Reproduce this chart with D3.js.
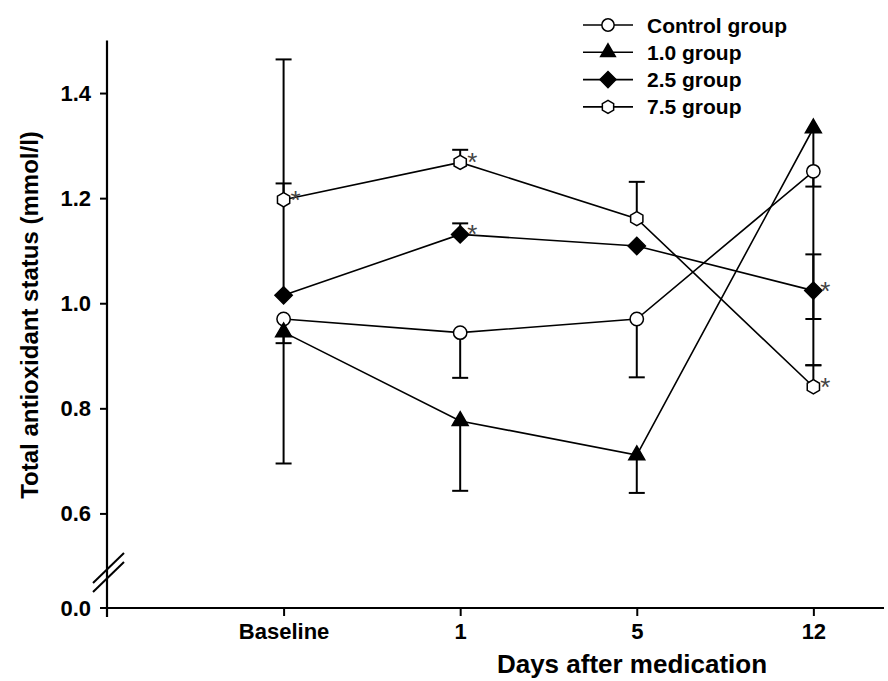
<!DOCTYPE html>
<html>
<head>
<meta charset="utf-8">
<script src="https://cdn.jsdelivr.net/npm/d3@7"></script>
<style>
  body { margin: 0; background: #fff; }
  text { font-family: "Liberation Sans", Arial, sans-serif; font-weight: bold; fill: #000; }
</style>
</head>
<body>
<div id="chart"></div>
<script>
var width = 888,
    height = 681;

// data
var categories = ["Baseline", "1", "5", "12"];
var groups = ["Control group", "1.0 group", "2.5 group", "7.5 group"];

var controlVals = [0.970, 0.944, 0.970, 1.251];
var grp10Vals   = [0.945, 0.776, 0.711, 1.333];
var grp25Vals   = [1.015, 1.131, 1.109, 1.024];
var grp75Vals   = [1.197, 1.268, 1.161, 0.841];

// end of the error bars (null = no bar on that side)
var controlLow  = [0.924, 0.858, 0.859, 1.222];
var controlHigh = [null, null, null, null];
var grp10Low    = [0.695, 0.643, 0.639, 0.882];
var grp10High   = [null, null, null, null];
var grp25Low    = [null, null, null, 0.970];
var grp25High   = [1.464, 1.152, null, 1.093];
var grp75Low    = [null, null, null, null];
var grp75High   = [1.228, 1.292, 1.231, 0.882];

// significance stars
var controlStar = [false, false, false, false];
var grp10Star   = [false, false, false, false];
var grp25Star   = [false, true, false, true];
var grp75Star   = [true, true, false, true];

var yTicks = [0.6, 0.8, 1.0, 1.2, 1.4];
var breakLabel = "0.0";

var svg = d3.select("#chart")
    .append("svg")
    .attr("width", width)
    .attr("height", height);

// x : index of the category, axis starts one step before baseline
var x = d3.scaleLinear().domain([-1, 3.4]).range([107, 884]);
// y : the bottom of the axis is the broken 0.0
var y = d3.scaleLinear().domain([0.42, 1.5]).range([608, 40.5]);

// custom symbols
var hexagon = {
    draw: function(context, size) {
        var r = Math.sqrt(size / 2.598);
        for (var i = 0; i < 6; i++) {
            var a = Math.PI / 2 + i * Math.PI / 3;
            if (i == 0) context.moveTo(r * Math.cos(a), -r * Math.sin(a));
            else context.lineTo(r * Math.cos(a), -r * Math.sin(a));
        }
        context.closePath();
    }
};
var square45 = {
    draw: function(context, size) {
        var r = Math.sqrt(size / 2);
        context.moveTo(0, -r);
        context.lineTo(r, 0);
        context.lineTo(0, r);
        context.lineTo(-r, 0);
        context.closePath();
    }
};

var series = [
    {name: groups[0], vals: controlVals, low: controlLow, high: controlHigh, star: controlStar,
     symbol: d3.symbolCircle, size: 140, fill: "#fff"},
    {name: groups[1], vals: grp10Vals, low: grp10Low, high: grp10High, star: grp10Star,
     symbol: d3.symbolTriangle, size: 110, fill: "#000"},
    {name: groups[2], vals: grp25Vals, low: grp25Low, high: grp25High, star: grp25Star,
     symbol: square45, size: 150, fill: "#000"},
    {name: groups[3], vals: grp75Vals, low: grp75Low, high: grp75High, star: grp75Star,
     symbol: hexagon, size: 130, fill: "#fff"}
];

var line = d3.line()
    .x(function(d, i) { return x(i); })
    .y(function(d) { return y(d); });

// axes
var xAxis = d3.axisBottom(x)
    .tickValues([0, 1, 2, 3])
    .tickFormat(function(d) { return categories[d]; })
    .tickSize(8)
    .tickSizeOuter(0);

var gx = svg.append("g")
    .attr("transform", "translate(0," + y(0.42) + ")")
    .call(xAxis);
gx.select(".domain").remove();
gx.append("line")
    .attr("x1", 100).attr("x2", x(3.4))
    .attr("stroke", "#000").attr("stroke-width", 2.2);
gx.selectAll(".tick line").attr("stroke-width", 2);
gx.selectAll(".tick text")
    .attr("y", 15)
    .style("font-size", "22px");

var yAxis = d3.axisLeft(y)
    .tickValues(yTicks)
    .tickFormat(d3.format(".1f"))
    .tickSize(7)
    .tickSizeOuter(0);

var gy = svg.append("g")
    .attr("transform", "translate(" + x(-1) + ",0)")
    .call(yAxis);
gy.select(".domain").remove();
gy.append("line")
    .attr("y1", y(1.5)).attr("y2", y(0.42) + 9)
    .attr("stroke", "#000").attr("stroke-width", 2.2);
gy.selectAll(".tick line").attr("stroke-width", 2);
gy.selectAll(".tick text")
    .attr("x", -16)
    .style("font-size", "22px");

// the 0.0 label at the break
gy.append("line")
    .attr("x1", -7).attr("x2", 0)
    .attr("y1", y(0.42)).attr("y2", y(0.42))
    .attr("stroke", "#000").attr("stroke-width", 2);
gy.append("text")
    .attr("x", -16)
    .attr("y", y(0.42))
    .attr("dy", "0.35em")
    .attr("text-anchor", "end")
    .style("font-size", "22px")
    .text(breakLabel);

// break marks on the y axis
[0, 9].forEach(function(off) {
    gy.append("line")
        .attr("x1", -14).attr("y1", 583 + off)
        .attr("x2", 17).attr("y2", 553 + off)
        .attr("stroke", "#000").attr("stroke-width", 2);
});

// axis titles
svg.append("text")
    .attr("transform", "translate(38," + 315 + ") rotate(-90)")
    .attr("text-anchor", "middle")
    .style("font-size", "24px")
    .text("Total antioxidant status (mmol/l)");

svg.append("text")
    .attr("x", 632)
    .attr("y", 673)
    .attr("text-anchor", "middle")
    .style("font-size", "26px")
    .text("Days after medication");

// lines
svg.append("g").selectAll("path")
    .data(series)
    .join("path")
    .attr("d", function(d) { return line(d.vals); })
    .attr("fill", "none")
    .attr("stroke", "#000")
    .attr("stroke-width", 1.6);

// error bars
var bars = [];
series.forEach(function(s) {
    s.vals.forEach(function(v, i) {
        if (s.low[i] != null) bars.push({i: i, from: v, to: s.low[i]});
        if (s.high[i] != null) bars.push({i: i, from: v, to: s.high[i]});
    });
});

var gErr = svg.append("g").attr("stroke", "#000").attr("stroke-width", 2);
gErr.selectAll(".stem")
    .data(bars)
    .join("line")
    .attr("class", "stem")
    .attr("x1", function(d) { return x(d.i); })
    .attr("x2", function(d) { return x(d.i); })
    .attr("y1", function(d) { return y(d.from); })
    .attr("y2", function(d) { return y(d.to); });
gErr.selectAll(".cap")
    .data(bars)
    .join("line")
    .attr("class", "cap")
    .attr("x1", function(d) { return x(d.i) - 8; })
    .attr("x2", function(d) { return x(d.i) + 8; })
    .attr("y1", function(d) { return y(d.to); })
    .attr("y2", function(d) { return y(d.to); });

// markers
series.forEach(function(s) {
    var sym = d3.symbol().type(s.symbol).size(s.size);
    svg.append("g").selectAll("path")
        .data(s.vals)
        .join("path")
        .attr("transform", function(d, i) { return "translate(" + x(i) + "," + y(d) + ")"; })
        .attr("d", sym)
        .attr("fill", s.fill)
        .attr("stroke", "#000")
        .attr("stroke-width", 1.5);

    // stars
    svg.append("g").selectAll("text")
        .data(s.vals.map(function(v, i) { return {v: v, i: i, on: s.star[i]}; })
            .filter(function(d) { return d.on; }))
        .join("text")
        .attr("x", function(d) { return x(d.i) + 7; })
        .attr("y", function(d) { return y(d.v) + 9; })
        .style("font-size", "26px")
        .style("font-weight", "normal")
        .style("fill", "#444")
        .text("*");
});

// legend
var legend = svg.append("g").attr("transform", "translate(583,25)");
series.forEach(function(s, k) {
    var row = legend.append("g").attr("transform", "translate(0," + (k * 27.3) + ")");
    row.append("line")
        .attr("x1", 0).attr("x2", 50)
        .attr("stroke", "#000").attr("stroke-width", 1.6);
    row.append("path")
        .attr("transform", "translate(25,0)")
        .attr("d", d3.symbol().type(s.symbol).size(s.size * 0.85))
        .attr("fill", s.fill)
        .attr("stroke", "#000")
        .attr("stroke-width", 1.5);
    row.append("text")
        .attr("x", 64)
        .attr("dy", "0.36em")
        .style("font-size", "21px")
        .text(s.name);
});
</script>
</body>
</html>
